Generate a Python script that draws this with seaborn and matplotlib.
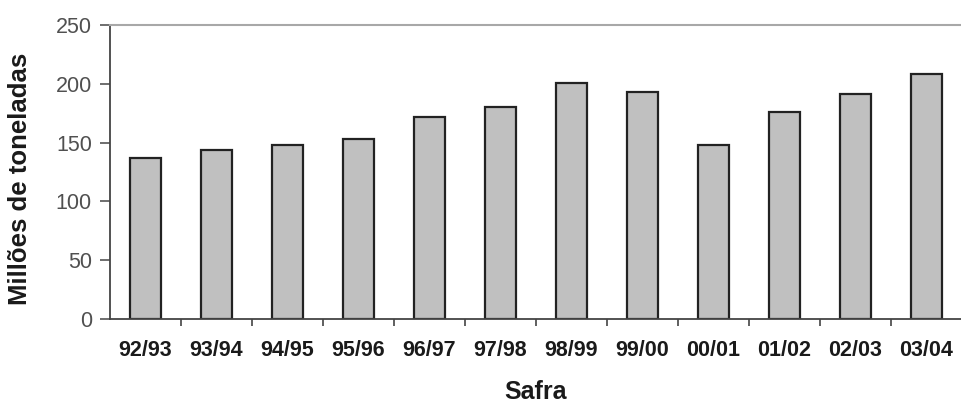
import numpy as np
import pandas as pd
import seaborn as sns
import matplotlib.pyplot as plt

# Safra (harvest) labels and production in millions of tonnes
safras = ["92/93", "93/94", "94/95", "95/96", "96/97", "97/98",
          "98/99", "99/00", "00/01", "01/02", "02/03", "03/04"]
producao = [137, 144, 148, 153, 172, 180, 201, 193, 148, 176, 191, 208]

y_ticks = [0, 50, 100, 150, 200, 250]

df = pd.DataFrame({"safra": safras, "producao": producao})

sns.set_theme(style="white")
plt.rcParams["font.family"] = ["Liberation Sans", "DejaVu Sans"]

fig = plt.figure(figsize=(9.62, 4.03), dpi=100)
ax = fig.add_axes([0.1143, 0.2084, 0.8857, 0.7296])

sns.barplot(
    data=df,
    x="safra",
    y="producao",
    color="#c0c0c0",
    width=0.44,
    edgecolor="#222222",
    linewidth=1.6,
    saturation=1,
    ax=ax,
)

ax.set_xlim(-0.5, len(safras) - 0.5)
ax.set_ylim(0, 250)
ax.set_yticks(y_ticks)
ax.set_yticklabels([str(v) for v in y_ticks], fontsize=15.5, color="#505050")

# tick marks on category boundaries, labels at centres
ax.set_xticks(np.arange(0.5, len(safras) - 1, 1))
ax.set_xticklabels([])
ax.set_xticks(np.arange(len(safras)), minor=True)
ax.set_xticklabels(safras, minor=True, fontsize=15.5, fontweight="bold", color="#1a1a1a")
ax.tick_params(axis="x", which="major", direction="out", length=5, width=1.2,
               color="#444444", bottom=True)
ax.tick_params(axis="x", which="minor", length=0, pad=15)
ax.tick_params(axis="y", direction="out", length=7, width=1.2, color="#555555",
               left=True, pad=6)

for side in ["left", "bottom"]:
    ax.spines[side].set_color("#444444")
    ax.spines[side].set_linewidth(1.3)
ax.spines["top"].set_color("#a8a8a8")
ax.spines["top"].set_linewidth(1.5)
ax.spines["right"].set_visible(False)

ax.set_xlabel("Safra", fontsize=18, fontweight="bold", color="#1a1a1a")
ax.xaxis.set_label_coords(0.5, -0.208)
ax.set_ylabel("Millões de toneladas", fontsize=18.5, fontweight="bold", color="#1a1a1a")
ax.yaxis.set_label_coords(-0.092, 0.478)
ax.grid(False)

fig.savefig("out.png", dpi=100)
